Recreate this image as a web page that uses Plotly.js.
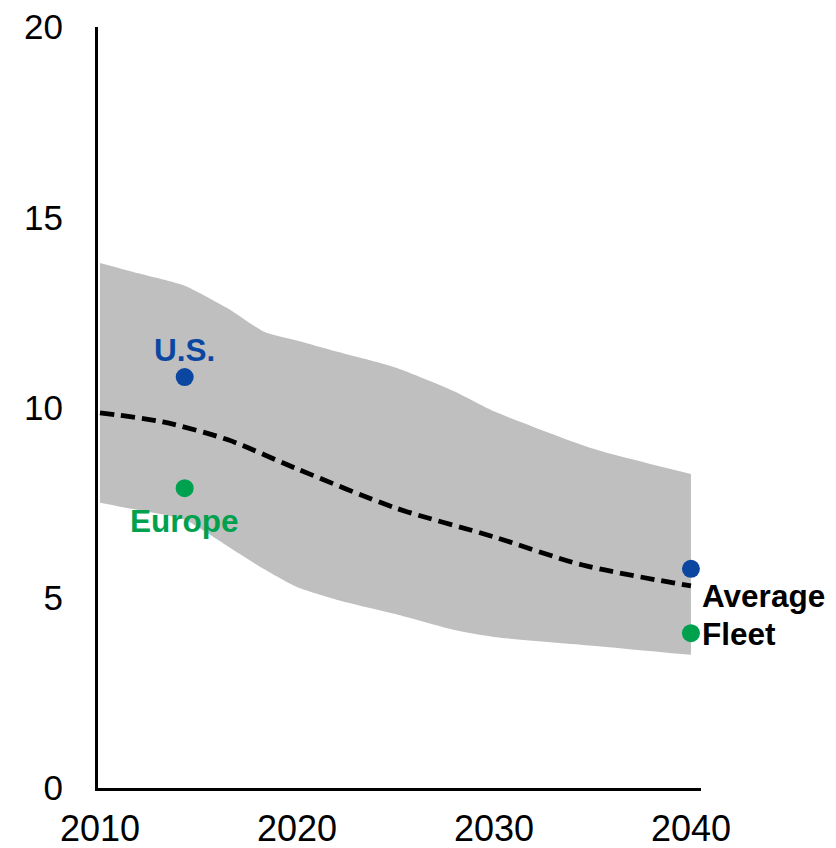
<!DOCTYPE html>
<html>
<head>
<meta charset="utf-8">
<script src="https://cdn.plot.ly/plotly-3.0.1.min.js"></script>
<style>html,body{margin:0;padding:0;background:#fff;}#chart{width:836px;height:848px;}</style>
</head>
<body>
<div id="chart"></div>
<script>
// Range band (upper / lower bounds)
const bandYears = [2010, 2012, 2014.3, 2016.5, 2018.3, 2020, 2022, 2025, 2028, 2030, 2035, 2040];
const bandUpper = [13.8, 13.52, 13.2, 12.6, 12.0, 11.76, 11.47, 11.05, 10.42, 9.9, 8.92, 8.25];
const bandLower = [7.5, 7.3, 7.05, 6.35, 5.76, 5.28, 4.95, 4.57, 4.15, 3.97, 3.74, 3.5];

// Average fleet (dashed)
const avgYears = [2010, 2013.2, 2016.5, 2019.9, 2025, 2030, 2034.5, 2040];
const avgValues = [9.86, 9.62, 9.15, 8.41, 7.36, 6.6, 5.86, 5.31];

// Points
const usYears = [2014.3, 2040];
const usValues = [10.8, 5.76];
const euYears = [2014.3, 2040];
const euValues = [7.88, 4.07];

// Ticks
const xTicks = [2010, 2020, 2030, 2040];
const yTicks = [0, 5, 10, 15, 20];

const FONT = 'Liberation Sans, Arial, sans-serif';
const BLUE = '#0b47a1';
const GREEN = '#00a14e';

const traces = [
  {x: bandYears, y: bandUpper, type: 'scatter', mode: 'lines',
   line: {width: 0, shape: 'spline', smoothing: 0.6, color: '#bfbfbf'}, hoverinfo: 'skip', showlegend: false},
  {x: bandYears, y: bandLower, type: 'scatter', mode: 'lines', fill: 'tonexty', fillcolor: '#bfbfbf',
   line: {width: 0, shape: 'spline', smoothing: 0.6, color: '#bfbfbf'}, hoverinfo: 'skip', showlegend: false},
  {x: avgYears, y: avgValues, type: 'scatter', mode: 'lines',
   line: {color: '#000', width: 4.8, dash: '14px,7px', shape: 'spline', smoothing: 0.8}, showlegend: false},
  {x: usYears, y: usValues, type: 'scatter', mode: 'markers', cliponaxis: false,
   marker: {color: BLUE, size: 18}, showlegend: false},
  {x: euYears, y: euValues, type: 'scatter', mode: 'markers', cliponaxis: false,
   marker: {color: GREEN, size: 18}, showlegend: false}
];

const layout = {
  width: 836, height: 848,
  margin: {l: 98, r: 135, t: 27, b: 60},
  paper_bgcolor: '#fff', plot_bgcolor: '#fff',
  showlegend: false,
  font: {family: FONT, color: '#000'},
  xaxis: {
    range: [2009.9, 2040.51], tickvals: xTicks, ticktext: xTicks.map(String),
    showgrid: false, zeroline: false, showline: true, linecolor: '#000', linewidth: 3,
    ticks: '', tickfont: {size: 36, family: FONT, color: '#000'}, ticklabelstandoff: 7
  },
  yaxis: {
    range: [0, 20], tickvals: yTicks, ticktext: yTicks.map(String),
    showgrid: false, zeroline: false, showline: true, linecolor: '#000', linewidth: 3,
    ticks: '', tickfont: {size: 35, family: FONT, color: '#000'}, ticklabelstandoff: 25
  },
  annotations: [
    {x: 2014.3, y: 11.51, xref: 'x', yref: 'y', text: '<b>U.S.</b>', showarrow: false,
     font: {size: 31.5, color: BLUE, family: FONT}, xanchor: 'center', yanchor: 'middle'},
    {x: 2014.3, y: 7.02, xref: 'x', yref: 'y', text: '<b>Europe</b>', showarrow: false,
     font: {size: 31.5, color: GREEN, family: FONT}, xanchor: 'center', yanchor: 'middle'},
    {x: 2040.45, y: 5.05, xref: 'x', yref: 'y', text: '<b>Average</b>', showarrow: false,
     font: {size: 31.5, color: '#000', family: FONT}, xanchor: 'left', yanchor: 'middle', xshift: 0},
    {x: 2040.45, y: 4.04, xref: 'x', yref: 'y', text: '<b>Fleet</b>', showarrow: false,
     font: {size: 31.5, color: '#000', family: FONT}, xanchor: 'left', yanchor: 'middle', xshift: 0}
  ]
};

Plotly.newPlot('chart', traces, layout, {displayModeBar: false, staticPlot: true});
</script>
</body>
</html>
